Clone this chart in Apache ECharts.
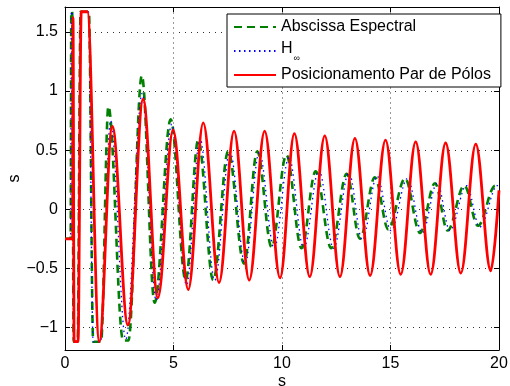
<!DOCTYPE html>
<html>
<head>
<meta charset="utf-8">
<script src="https://cdn.jsdelivr.net/npm/echarts@6/dist/echarts.min.js"></script>
<style>
  html, body { margin: 0; padding: 0; background: #fff; }
  #chart { width: 510px; height: 386px; }
</style>
</head>
<body>
<div id="chart"></div>
<script>
// Legend entries, in drawing order
const seriesNames = ['Abscissa Espectral', 'H∞', 'Posicionamento Par de Pólos'];

// Tick values shown on the axes
const xTicks = [0, 5, 10, 15, 20];
const yTicks = [-1, -0.5, 0, 0.5, 1, 1.5];

// Abscissa Espectral: turning points of the response (time in s)
const tAbscissa = [0, 0.26, 0.29, 0.33, 0.4, 0.58, 0.72, 1.1, 1.3, 1.66, 2.0, 2.68, 2.92, 3.54, 4.13, 4.87,
  5.56, 6.14, 6.83, 7.52, 8.25, 8.86, 9.52, 10.2, 10.9, 11.55, 12.27, 12.98, 13.59, 14.28, 14.9, 15.67,
  16.36, 17.05, 17.63, 18.4, 19.03, 19.83, 20];
const yAbscissa = [-0.25, -0.25, 1.67, 1.67, -1.12, -1.12, 1.67, 1.67, -1.12, -1.12, 0.87, -1.11, -1.11, 1.13, -0.79, 0.76,
  -0.6, 0.585, -0.6, 0.49, -0.46, 0.49, -0.32, 0.46, -0.33, 0.32, -0.33, 0.30, -0.25, 0.27, -0.17, 0.26,
  -0.2, 0.22, -0.18, 0.2, -0.14, 0.2, 0.18];

// H-infinity controller
const tHinf = [0, 0.26, 0.29, 0.33, 0.4, 0.58, 0.72, 1.08, 1.3, 1.64, 2.1, 2.8, 3.56, 4.2, 4.92, 5.6,
  6.22, 6.9, 7.6, 8.3, 8.95, 9.64, 10.32, 11.0, 11.7, 12.38, 13.08, 13.7, 14.38, 15.02, 15.78, 16.46,
  17.15, 17.74, 18.5, 19.12, 19.93, 20];
const yHinf = [-0.25, -0.25, 1.67, 1.67, -1.12, -1.12, 1.67, 1.67, -1.12, -1.12, 0.75, -1.1, 0.98, -0.77, 0.72, -0.64,
  0.6, -0.6, 0.49, -0.46, 0.48, -0.33, 0.44, -0.33, 0.33, -0.33, 0.31, -0.26, 0.28, -0.18, 0.26, -0.2,
  0.22, -0.18, 0.2, -0.15, 0.2, 0.19];

// Pole-pair placement
const tPolos = [0, 0.36, 0.37, 0.42, 0.6, 0.75, 1.03, 1.58, 2.18, 2.9, 3.6, 4.28, 4.98, 5.68, 6.37, 7.1,
  7.79, 8.49, 9.2, 9.91, 10.57, 11.28, 11.97, 12.67, 13.36, 14.06, 14.77, 15.47, 16.16, 16.85, 17.54, 18.24,
  18.93, 19.62, 20];
const yPolos = [-0.25, -0.25, 1.62, -1.12, -1.12, 1.67, 1.67, -1.12, 0.70, -0.98, 0.93, -0.75, 0.67, -0.68, 0.73, -0.62,
  0.66, -0.6, 0.66, -0.58, 0.64, -0.57, 0.62, -0.57, 0.6, -0.56, 0.585, -0.55, 0.57, -0.55, 0.56, -0.54,
  0.55, -0.52, 0.16];

const FONT = 'Liberation Sans, Arial, Helvetica, sans-serif';
const pairs = (t, y) => t.map((v, i) => [v, y[i]]);
const fmtY = v => yTicks.includes(+v.toFixed(2)) ? String(+v.toFixed(2)).replace('-', '\u2212') : '';
const fmtX = v => xTicks.includes(v) ? String(v) : '';

const lineBase = {
  type: 'line',
  symbol: 'none',
  smooth: 0.36,
  smoothMonotone: 'x',
  animation: false,
  xAxisIndex: 0,
  yAxisIndex: 0
};

const boxAxis = {
  axisLine: { show: true, onZero: false, lineStyle: { color: '#000', width: 1 } },
  axisTick: { show: true, inside: true, length: 5, lineStyle: { color: '#000', width: 1 } }
};

const chart = echarts.init(document.getElementById('chart'), null, { renderer: 'canvas' });
chart.setOption({
  animation: false,
  backgroundColor: '#fff',
  grid: { left: 65, right: 11, top: 7, bottom: 36, containLabel: false, outerBoundsMode: 'none' },
  xAxis: [
    Object.assign({
      type: 'value', min: 0, max: 20, interval: 5, position: 'bottom',
      axisLabel: { color: '#000', fontSize: 16, fontFamily: FONT, margin: 6, formatter: fmtX },
      splitLine: { show: true, lineStyle: { color: '#9a9a9a', type: [2, 3], width: 1 } },
      name: 's', nameLocation: 'middle', nameGap: 24, nameMoveOverlap: false,
      nameTextStyle: { color: '#000', fontSize: 16, fontFamily: FONT }
    }, boxAxis),
    Object.assign({
      type: 'value', min: 0, max: 20, interval: 5, position: 'top',
      axisLabel: { show: false }, splitLine: { show: false }
    }, boxAxis)
  ],
  yAxis: [
    Object.assign({
      type: 'value', min: -1.19, max: 1.71, splitNumber: 5, position: 'left',
      axisLabel: { color: '#000', fontSize: 16, fontFamily: FONT, margin: 7, formatter: fmtY },
      splitLine: { show: true, lineStyle: { color: '#333', type: [1, 5], width: 1 } },
      name: 's', nameLocation: 'middle', nameGap: 42, nameMoveOverlap: false,
      nameTextStyle: { color: '#000', fontSize: 16, fontFamily: FONT }
    }, boxAxis),
    Object.assign({
      type: 'value', min: -1.19, max: 1.71, splitNumber: 5, position: 'right',
      axisLabel: { show: false }, splitLine: { show: false }
    }, boxAxis)
  ],
  legend: {
    data: seriesNames,
    orient: 'vertical',
    left: 227,
    top: 14,
    padding: [1, 10, 0, 6],
    itemGap: 0,
    itemWidth: 42,
    itemHeight: 14,
    backgroundColor: '#fff',
    borderColor: '#000',
    borderWidth: 1,
    borderRadius: 0,
    itemStyle: { opacity: 0, borderWidth: 0 },
    textStyle: {
      color: '#000', fontSize: 16, fontFamily: FONT, lineHeight: 24,
      rich: {
        h: { color: '#000', fontSize: 16, fontFamily: FONT, verticalAlign: 'top', padding: [2, 0, 0, 0] },
        sub: { color: '#000', fontSize: 9, fontFamily: FONT, verticalAlign: 'bottom', padding: [0, 0, 0, 1] }
      }
    },
    formatter: name => name === 'H∞' ? '{h|H}{sub|∞}' : name
  },
  series: [
    Object.assign({
      name: seriesNames[0], data: pairs(tAbscissa, yAbscissa), z: 2,
      lineStyle: { color: '#008000', width: 2.6, type: [8, 5] }, itemStyle: { color: '#008000' }
    }, lineBase),
    Object.assign({
      name: seriesNames[1], data: pairs(tHinf, yHinf), z: 3,
      lineStyle: { color: '#0000ff', width: 1.3, type: [1.5, 3.5] }, itemStyle: { color: '#0000ff' }
    }, lineBase),
    Object.assign({
      name: seriesNames[2], data: pairs(tPolos, yPolos), z: 4,
      lineStyle: { color: '#ff0000', width: 2.8 }, itemStyle: { color: '#ff0000' }
    }, lineBase)
  ]
});
</script>
</body>
</html>
